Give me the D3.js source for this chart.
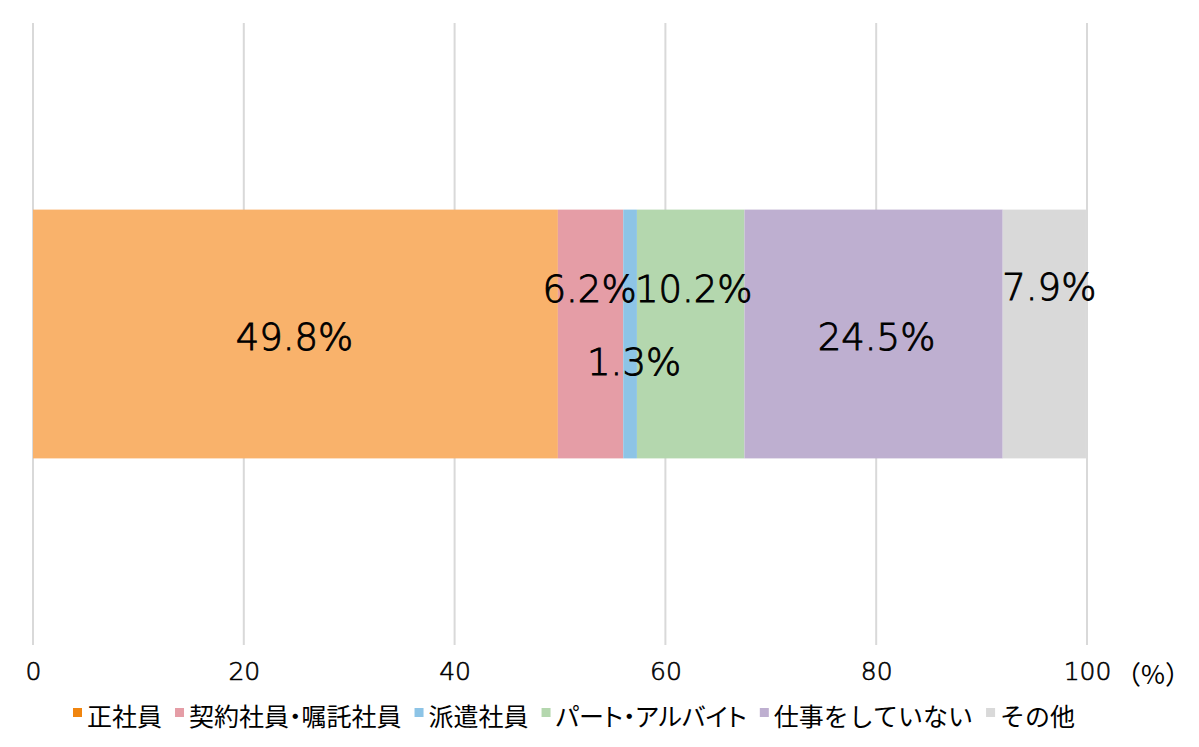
<!DOCTYPE html>
<html>
<head>
<meta charset="utf-8">
<script src="https://cdn.jsdelivr.net/npm/d3@7"></script>
<style>
  body { margin: 0; background: #fff; }
  text { font-family: "Noto Sans CJK JP", "Noto Sans", sans-serif; fill: #000; }
  .num { font-family: "DejaVu Sans", sans-serif; font-weight: 300; stroke: #000; }
</style>
</head>
<body>
<div id="chart"></div>
<script>
// data
var categories = ["正社員", "契約社員・嘱託社員", "派遣社員", "パート・アルバイト", "仕事をしていない", "その他"];
var values = [49.8, 6.2, 1.3, 10.2, 24.5, 7.9];
var barColors = ["#F9B26B", "#E59DA6", "#8DC4E6", "#B4D7AE", "#BEAFD0", "#D9D9D9"];
var legendColors = ["#F0850F", "#E59DA6", "#8DC4E6", "#B4D7AE", "#BEAFD0", "#D9D9D9"];
var tickValues = [0, 20, 40, 60, 80, 100];
// label nudges (px) as placed in the original
var labelDx = [-1, -1, 4, 3, 3, 5];
var labelDy = [3, -45, 28, -45, 3, -47];

var W = 1199, H = 747;
var margin = {top: 23, right: 112, bottom: 102, left: 33};
var width = W - margin.left - margin.right,
    height = H - margin.top - margin.bottom;

var svg = d3.select("#chart")
  .append("svg")
    .attr("width", W)
    .attr("height", H)
  .append("g")
    .attr("transform", "translate(" + margin.left + "," + margin.top + ")");

var x = d3.scaleLinear().domain([0, 100]).range([0, width]);
var y = d3.scaleBand().domain(["all"]).range([0, height]).paddingInner(0.6).paddingOuter(0.3);

// gridlines
svg.append("g")
  .selectAll("line")
  .data(tickValues)
  .enter()
  .append("line")
    .attr("x1", function (d) { return x(d); })
    .attr("x2", function (d) { return x(d); })
    .attr("y1", 0)
    .attr("y2", height)
    .style("stroke", "#D9D9D9")
    .style("stroke-width", 2);

// stacked segments
var starts = [];
var acc = 0;
values.forEach(function (v) { starts.push(acc); acc += v; });

svg.append("g")
  .selectAll("rect")
  .data(values)
  .enter()
  .append("rect")
    .attr("x", function (d, i) { return x(starts[i]); })
    .attr("y", y("all"))
    .attr("width", function (d) { return x(d) - x(0); })
    .attr("height", y.bandwidth())
    .style("fill", function (d, i) { return barColors[i]; });

// data labels
svg.append("g")
  .selectAll("text")
  .data(values)
  .enter()
  .append("text")
    .attr("class", "num")
    .attr("x", function (d, i) { return x(starts[i] + d / 2) + labelDx[i]; })
    .attr("y", function (d, i) { return y("all") + y.bandwidth() / 2 + labelDy[i]; })
    .attr("text-anchor", "middle")
    .attr("dominant-baseline", "central")
    .style("font-size", "37px")
    .style("stroke-width", "0.9px")
    .text(function (d) { return d.toFixed(1) + "%"; });

// x axis
var xAxis = svg.append("g")
  .attr("transform", "translate(0," + height + ")")
  .call(d3.axisBottom(x).tickValues(tickValues).tickSize(0).tickPadding(17));
xAxis.select(".domain").remove();
xAxis.selectAll("text")
  .attr("class", "num")
  .style("font-size", "25px")
  .style("stroke-width", "0.6px")
  .style("font-family", "'DejaVu Sans', sans-serif");

svg.append("text")
  .attr("x", x(100) + 28)
  .attr("y", height + 27)
  .attr("dominant-baseline", "central")
  .style("font-size", "26px")
  .text("（%）");

// legend
var legend = d3.select("svg").append("g")
  .attr("transform", "translate(73,715)");
var lx = 0;
categories.forEach(function (c, i) {
  var item = legend.append("g").attr("transform", "translate(" + lx + ",0)");
  item.append("rect")
    .attr("x", 0)
    .attr("y", -7)
    .attr("width", 9)
    .attr("height", 9)
    .style("fill", legendColors[i]);
  var t = item.append("text")
    .attr("x", 14)
    .attr("y", 0)
    .attr("dominant-baseline", "central")
    .style("font-size", "25px")
    .style("font-feature-settings", c.indexOf("・") >= 0 ? "'palt'" : "normal")
    .text(c);
  lx += 14 + t.node().getComputedTextLength() + 13;
});
</script>
</body>
</html>
